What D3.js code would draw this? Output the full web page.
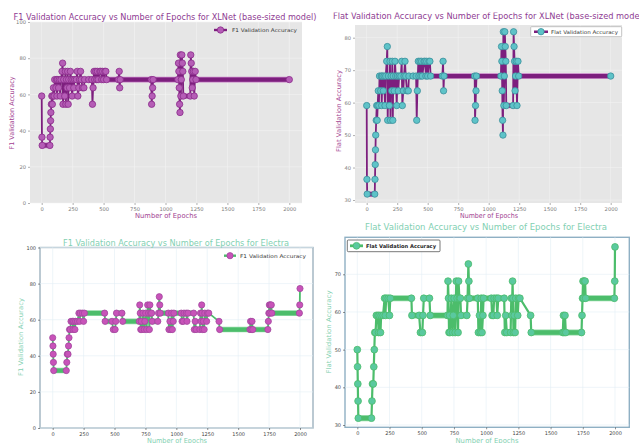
<!DOCTYPE html>
<html>
<head>
<meta charset="utf-8">
<script src="https://cdn.jsdelivr.net/npm/d3@7"></script>
<style>
  html, body { margin: 0; padding: 0; background: #ffffff; }
  svg { display: block; font-family: "DejaVu Sans", sans-serif; }
</style>
</head>
<body>
<svg id="chart" width="639" height="443"></svg>
<script>
// ---- Validation accuracy logged during training (epoch, accuracy %) ----
// F1 and flat accuracy coincide for each model on this validation set.
const xlnetEpochs = [
  0, 2, 4, 66, 68, 70, 72, 74, 78, 82, 86, 90, 95, 100, 105, 115, 120, 123, 128, 136,
  142, 150, 156, 164, 169, 172, 178, 186, 191, 195, 200, 205, 210, 214, 218, 225, 232, 238, 246, 252,
  259, 266, 280, 287, 292, 300, 306, 314, 320, 330, 341, 346, 380, 405, 410, 415, 423, 428, 437, 444,
  450, 456, 470, 478, 485, 492, 500, 510, 518, 524, 620, 626, 630, 634, 885, 888, 892, 896, 900, 1100,
  1105, 1108, 1111, 1114, 1117, 1120, 1124, 1128, 1132, 1136, 1140, 1144, 1200, 1204, 1208, 1212, 1216, 1220, 1226, 1232,
  1240, 1246, 2000
];
const xlnetAccuracy = [
  59.09, 36.36, 31.82, 31.82, 36.36, 40.91, 45.45, 50.00, 54.55, 59.09, 54.55, 59.09, 63.64, 59.09, 68.18, 63.64, 68.18, 59.09, 68.18, 63.64,
  68.18, 59.09, 68.18, 72.73, 77.27, 54.55, 68.18, 59.09, 72.73, 54.55, 68.18, 63.64, 72.73, 54.55, 68.18, 63.64, 72.73, 68.18, 59.09, 68.18,
  63.64, 68.18, 68.18, 72.73, 59.09, 63.64, 68.18, 72.73, 68.18, 63.64, 63.64, 68.18, 68.18, 68.18, 54.55, 63.64, 72.73, 68.18, 72.73, 68.18,
  72.73, 68.18, 72.73, 72.73, 68.18, 72.73, 68.18, 72.73, 72.73, 68.18, 68.18, 72.73, 63.64, 68.18, 68.18, 54.55, 59.09, 63.64, 68.18, 68.18,
  77.27, 72.73, 63.64, 54.55, 50.00, 81.82, 59.09, 68.18, 81.82, 77.27, 72.73, 59.09, 59.09, 81.82, 77.27, 72.73, 63.64, 68.18, 72.73, 59.09,
  72.73, 68.18, 68.18
];

const electraEpochs = [
  0, 2, 4, 6, 8, 110, 114, 118, 124, 128, 132, 136, 142, 148, 160, 165, 170, 180, 185, 200,
  212, 218, 224, 240, 250, 256, 420, 424, 480, 490, 505, 510, 516, 560, 566, 700, 704, 708, 712, 716,
  720, 730, 740, 745, 752, 760, 768, 775, 782, 786, 792, 800, 805, 850, 856, 862, 866, 870, 935, 940,
  948, 955, 962, 968, 975, 980, 1040, 1046, 1056, 1062, 1080, 1086, 1094, 1140, 1145, 1152, 1160, 1190, 1195, 1200,
  1205, 1208, 1212, 1218, 1225, 1230, 1245, 1252, 1262, 1345, 1350, 1595, 1600, 1605, 1612, 1618, 1740, 1744, 1748, 1752,
  1756, 1760, 1768, 1772, 1995, 1998, 2000
];
const electraAccuracy = [
  50.00, 45.45, 40.91, 36.36, 31.82, 31.82, 36.36, 40.91, 40.91, 45.45, 50.00, 54.55, 54.55, 59.09, 59.09, 54.55, 59.09, 54.55, 59.09, 59.09,
  63.64, 59.09, 63.64, 63.64, 59.09, 63.64, 63.64, 59.09, 59.09, 54.55, 54.55, 59.09, 63.64, 63.64, 59.09, 59.09, 68.18, 63.64, 54.55, 59.09,
  54.55, 63.64, 54.55, 59.09, 63.64, 54.55, 68.18, 63.64, 54.55, 68.18, 63.64, 63.64, 59.09, 59.09, 63.64, 72.73, 68.18, 63.64, 63.64, 54.55,
  59.09, 54.55, 63.64, 54.55, 59.09, 63.64, 63.64, 59.09, 59.09, 63.64, 63.64, 59.09, 63.64, 63.64, 54.55, 59.09, 54.55, 54.55, 63.64, 59.09,
  68.18, 63.64, 54.55, 59.09, 54.55, 63.64, 59.09, 63.64, 63.64, 59.09, 54.55, 54.55, 59.09, 54.55, 59.09, 54.55, 54.55, 59.09, 63.64, 68.18,
  63.64, 68.18, 68.18, 63.64, 63.64, 68.18, 77.27
];

const epochTicks = [0, 250, 500, 750, 1000, 1250, 1500, 1750, 2000];
const f1Ticks = [0, 20, 40, 60, 80, 100];
const xlnetFlatTicks = [30, 40, 50, 60, 70, 80];
const electraFlatTicks = [30, 40, 50, 60, 70];

const svg = d3.select("#chart");

// Clip for the top-right panel, whose title runs into the page edge.
svg.append("defs").append("clipPath").attr("id", "clipTopRight")
  .append("rect").attr("x", 320).attr("y", 12.5).attr("width", 330).attr("height", 220);

function drawPanel(p) {
  const g = svg.append("g");
  if (p.clip) g.attr("clip-path", `url(#${p.clip})`);

  const x = d3.scaleLinear().domain([0, 2000]).range(p.xRange);
  const y = d3.scaleLinear().domain(p.yDomain).range(p.yRange);
  const [px0, px1] = p.plotX, [py0, py1] = p.plotY;

  // plot area
  g.append("rect").attr("x", px0).attr("y", py0)
    .attr("width", px1 - px0).attr("height", py1 - py0)
    .attr("fill", p.bg).attr("stroke", p.frame || "none").attr("stroke-width", p.frameWidth || 0);

  // grid
  const grid = g.append("g");
  grid.selectAll("line.vx").data(p.xTicks).join("line")
    .attr("x1", d => x(d)).attr("x2", d => x(d)).attr("y1", py0).attr("y2", py1)
    .attr("stroke", p.gridColor).attr("stroke-width", 0.6);
  grid.selectAll("line.hy").data(p.yTicks).join("line")
    .attr("x1", px0).attr("x2", px1).attr("y1", d => y(d)).attr("y2", d => y(d))
    .attr("stroke", p.gridColor).attr("stroke-width", 0.6);

  // axes
  const fmt = d3.format("d");
  const xAxis = d3.axisBottom(x).tickValues(p.xTicks).tickFormat(fmt).tickSize(2).tickPadding(2);
  const yAxis = d3.axisLeft(y).tickValues(p.yTicks).tickFormat(fmt).tickSize(2).tickPadding(2);
  const gx = g.append("g").attr("transform", `translate(0,${py1})`).call(xAxis);
  const gy = g.append("g").attr("transform", `translate(${px0},0)`).call(yAxis);
  [gx, gy].forEach(a => {
    a.select(".domain").remove();
    a.selectAll(".tick line").attr("stroke", p.tickColor).attr("stroke-width", 0.6);
    a.selectAll(".tick text").attr("fill", p.tickColor).style("font-size", p.tickSize + "px")
      .style("font-family", "DejaVu Sans, sans-serif");
  });

  // data
  const pts = p.epochs.map((e, i) => ({ e, v: p.values[i] }));
  const line = d3.line().x(d => x(d.e)).y(d => y(d.v));

  // stretches where the accuracy holds steady
  const flats = [];
  for (let i = 1; i < pts.length; i++) {
    if (pts[i].v === pts[i - 1].v) flats.push([pts[i - 1], pts[i]]);
  }
  const marks = g.append("g");
  marks.selectAll("path.halo").data(flats).join("path")
    .attr("d", line).attr("fill", "none")
    .attr("stroke", p.haloColor).attr("stroke-width", p.bandWidth + 1.4).attr("stroke-linecap", "round");
  marks.append("path").datum(pts).attr("d", line)
    .attr("fill", "none").attr("stroke", p.lineColor).attr("stroke-width", p.lineWidth)
    .attr("stroke-linejoin", "round");
  marks.selectAll("path.band").data(flats).join("path")
    .attr("d", line).attr("fill", "none")
    .attr("stroke", p.lineColor).attr("stroke-width", p.bandWidth).attr("stroke-linecap", "round");
  marks.selectAll("circle").data(pts).join("circle")
    .attr("cx", d => x(d.e)).attr("cy", d => y(d.v)).attr("r", p.markerR)
    .attr("fill", p.markerFill).attr("stroke", p.markerStroke).attr("stroke-width", 0.8);

  // title and axis labels
  g.append("text").attr("x", p.title.x).attr("y", p.title.y).attr("text-anchor", p.title.anchor || "middle")
    .attr("fill", p.titleColor).style("font-size", p.title.size + "px")
    .attr("textLength", p.title.len).attr("lengthAdjust", "spacingAndGlyphs").text(p.title.text);
  g.append("text").attr("x", p.xLabel.x).attr("y", p.xLabel.y).attr("text-anchor", "middle")
    .attr("fill", p.labelColor).style("font-size", p.xLabel.size + "px")
    .attr("textLength", p.xLabel.len).attr("lengthAdjust", "spacingAndGlyphs").text("Number of Epochs");
  g.append("text").attr("transform", `translate(${p.yLabel.x},${p.yLabel.y}) rotate(-90)`)
    .attr("text-anchor", "middle").attr("fill", p.labelColor).style("font-size", p.yLabel.size + "px")
    .attr("textLength", p.yLabel.len).attr("lengthAdjust", "spacingAndGlyphs").text(p.yLabel.text);

  // legend
  const L = p.legend;
  if (L.box) {
    g.append("rect").attr("x", L.box[0]).attr("y", L.box[1]).attr("width", L.box[2]).attr("height", L.box[3])
      .attr("fill", "#ffffff").attr("stroke", L.boxStroke).attr("stroke-width", 0.8).attr("rx", 1);
  }
  g.append("line").attr("x1", L.x).attr("x2", L.x + L.w).attr("y1", L.y).attr("y2", L.y)
    .attr("stroke", p.lineColor).attr("stroke-width", p.lineWidth + 0.6);
  g.append("circle").attr("cx", L.x + L.w / 2).attr("cy", L.y).attr("r", p.markerR)
    .attr("fill", p.markerFill).attr("stroke", p.markerStroke).attr("stroke-width", 0.8);
  g.append("text").attr("x", L.tx).attr("y", L.y + 2).attr("fill", L.color || "#333")
    .style("font-size", L.size + "px").style("font-weight", L.weight || "normal")
    .attr("textLength", L.len).attr("lengthAdjust", "spacingAndGlyphs").text(L.text);
}

// XLNet — F1
drawPanel({
  epochs: xlnetEpochs, values: xlnetAccuracy,
  plotX: [30, 302], plotY: [22, 203],
  xRange: [41.7, 289.3], yDomain: [0, 100], yRange: [203, 22],
  xTicks: epochTicks, yTicks: f1Ticks,
  bg: "#e6e6e6", gridColor: "#f4f4f4", tickColor: "#7a7a7a", tickSize: 5.2,
  lineColor: "#7d1f7e", haloColor: "#c77fc6", lineWidth: 1.8, bandWidth: 4.2,
  markerR: 3.2, markerFill: "#b55db6", markerStroke: "#8a2c8a",
  titleColor: "#8e3b92", labelColor: "#a23e91",
  title: { x: 165, y: 19.5, size: 9, len: 303, text: "F1 Validation Accuracy vs Number of Epochs for XLNet (base-sized model)" },
  xLabel: { x: 166, y: 218, size: 7, len: 62 },
  yLabel: { x: 14, y: 113, size: 6.5, len: 73, text: "F1 Validation Accuracy" },
  legend: { x: 214, w: 13, y: 30, tx: 232, size: 5, len: 65, text: "F1 Validation Accuracy", color: "#333" }
});

// XLNet — flat
drawPanel({
  clip: "clipTopRight",
  epochs: xlnetEpochs, values: xlnetAccuracy,
  plotX: [355, 622], plotY: [25, 203],
  xRange: [366.7, 610.7], yDomain: [30, 80], yRange: [200, 37.7],
  xTicks: epochTicks, yTicks: xlnetFlatTicks,
  bg: "#e6e6e6", gridColor: "#f4f4f4", tickColor: "#7a7a7a", tickSize: 5.2,
  lineColor: "#7d1f7e", haloColor: "#c77fc6", lineWidth: 1.8, bandWidth: 4.2,
  markerR: 3.2, markerFill: "#5ec3c8", markerStroke: "#3c8f9c",
  titleColor: "#8e3b92", labelColor: "#a23e91",
  title: { x: 333, y: 18.5, anchor: "start", size: 9, len: 312, text: "Flat Validation Accuracy vs Number of Epochs for XLNet (base-sized model)" },
  xLabel: { x: 489, y: 217.5, size: 7, len: 58 },
  yLabel: { x: 341, y: 111, size: 6.5, len: 82, text: "Flat Validation Accuracy" },
  legend: { x: 534, w: 14, y: 31.7, tx: 551, size: 5, len: 67, text: "Flat Validation Accuracy", color: "#333",
            box: [530.7, 26.7, 91, 10], boxStroke: "#b5b5b5" }
});

// Electra — F1
drawPanel({
  epochs: electraEpochs, values: electraAccuracy,
  plotX: [40, 313], plotY: [247.5, 428],
  xRange: [52.7, 300], yDomain: [0, 100], yRange: [428, 247.5],
  xTicks: epochTicks, yTicks: f1Ticks,
  bg: "#ffffff", frame: "#9fb3bf", frameWidth: 1.4, gridColor: "#e3eff5", tickColor: "#444", tickSize: 5,
  lineColor: "#4cbd6b", haloColor: "#8fd9a4", lineWidth: 1.8, bandWidth: 4.2,
  markerR: 3.1, markerFill: "#c853b9", markerStroke: "#a3479e",
  titleColor: "#82d0b2", labelColor: "#7fd0b0",
  title: { x: 176, y: 245.5, size: 9, len: 226, text: "F1 Validation Accuracy vs Number of Epochs for Electra" },
  xLabel: { x: 177, y: 443, size: 7, len: 60 },
  yLabel: { x: 23, y: 337, size: 6.5, len: 78, text: "F1 Validation Accuracy" },
  legend: { x: 224, w: 12, y: 255.7, tx: 240, size: 5, len: 66, text: "F1 Validation Accuracy", color: "#333" }
});

// Electra — flat
drawPanel({
  epochs: electraEpochs, values: electraAccuracy,
  plotX: [345, 629.3], plotY: [237.3, 427.3],
  xRange: [357.3, 615], yDomain: [30, 70], yRange: [425, 274.3],
  xTicks: epochTicks, yTicks: electraFlatTicks,
  bg: "#ffffff", frame: "#8fb0c4", frameWidth: 1.4, gridColor: "#e3eff5", tickColor: "#444", tickSize: 5,
  lineColor: "#4cbd6b", haloColor: "#8fd9a4", lineWidth: 2.2, bandWidth: 4.6,
  markerR: 3.4, markerFill: "#5ac99f", markerStroke: "#4cbd6b",
  titleColor: "#82d0b2", labelColor: "#7fd0b0",
  title: { x: 486, y: 229.5, size: 9, len: 242, text: "Flat Validation Accuracy vs Number of Epochs for Electra" },
  xLabel: { x: 487, y: 443, size: 7, len: 63 },
  yLabel: { x: 331, y: 332, size: 6.5, len: 83, text: "Flat Validation Accuracy" },
  legend: { x: 350, w: 13, y: 245.8, tx: 366, size: 5.2, len: 70, text: "Flat Validation Accuracy", color: "#222", weight: "bold",
            box: [347.3, 240, 92.7, 11.7], boxStroke: "#555" }
});
</script>
</body>
</html>
